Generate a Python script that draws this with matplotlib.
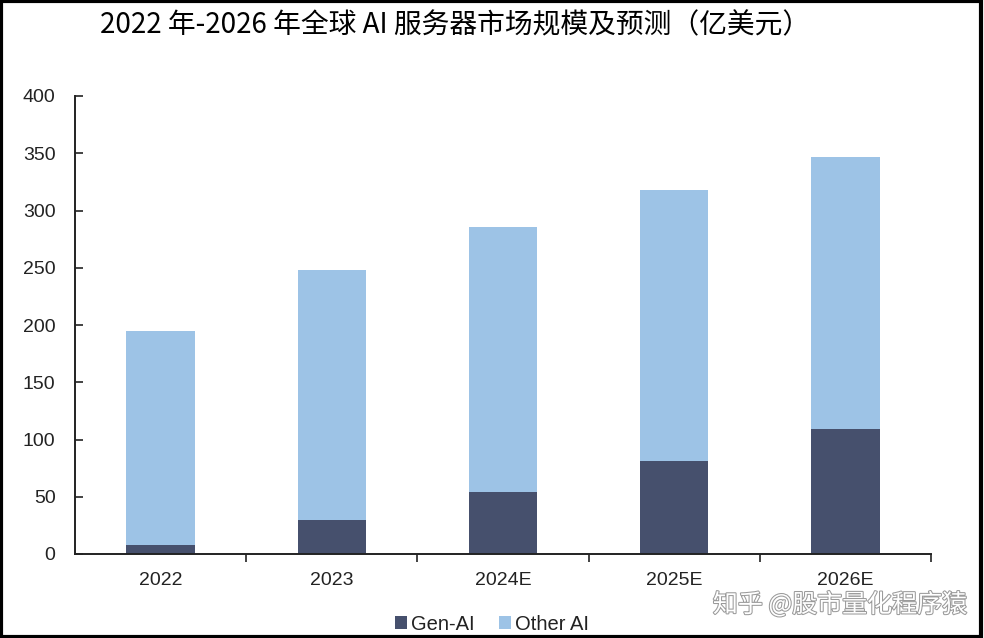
import matplotlib
matplotlib.use("Agg")
import matplotlib.pyplot as plt
import matplotlib.patheffects as pe
from matplotlib.patches import Rectangle
import numpy as np

categories = ["2022", "2023", "2024E", "2025E", "2026E"]
gen_ai = [8, 30, 54, 81, 109]
other_ai = [187, 218, 232, 237, 238]
yticks = [0, 50, 100, 150, 200, 250, 300, 350, 400]

title = "2022 年-2026 年全球 AI 服务器市场规模及预测（亿美元）"
watermark = "知乎 @股市量化程序猿"

c_gen = "#46506d"
c_other = "#9dc3e6"

plt.rcParams['font.family'] = ['Liberation Sans', 'Noto Sans CJK SC', 'DejaVu Sans']

fig = plt.figure(figsize=(9.84, 6.38), dpi=100)
ax = fig.add_axes([75/984, 1-554/638, (931-75)/984, (554-96)/638])

x = np.arange(len(categories))
ax.bar(x, gen_ai, width=0.4, color=c_gen, label="Gen-AI")
ax.bar(x, other_ai, width=0.4, bottom=gen_ai, color=c_other, label="Other AI")

ax.set_xlim(-0.5, len(categories) - 0.5)
ax.set_ylim(0, 400)
ax.set_yticks(yticks)
ax.set_xticks(x)
ax.set_xticklabels(categories, fontsize=14, color="#222222")
ax.set_xticks(np.arange(len(categories)) + 0.5, minor=True)
ax.tick_params(axis='x', which='major', length=0, pad=13)
ax.tick_params(axis='x', which='minor', length=6, width=1.2, direction='out', color="#222222")
ax.tick_params(axis='y', which='major', length=6, width=1.2, direction='in', pad=14,
               labelsize=14, labelcolor="#222222", color="#222222")
for s in ["top", "right"]:
    ax.spines[s].set_visible(False)
for s in ["left", "bottom"]:
    ax.spines[s].set_linewidth(1.4)
    ax.spines[s].set_color("#222222")

fig.text(100/984, 1-25/638, title, fontsize=20, ha='left', va='center',
         family=['Noto Sans CJK SC', 'DejaVu Sans'], color="black")

leg = fig.legend(loc='center', bbox_to_anchor=(0.5, 1-624/638), ncol=2, frameon=False,
                 fontsize=14.5, handlelength=0.6, handleheight=0.6, handletextpad=0.2,
                 columnspacing=1.2)
for t in leg.get_texts():
    t.set_color("#222222")

fig.text(840/984, 1-605/638, watermark, fontsize=18, ha='center', va='center',
         family=['Noto Sans CJK SC', 'DejaVu Sans'], color="white",
         path_effects=[pe.withStroke(linewidth=1.5, foreground="#9a9a9a")])

fig.patches.append(Rectangle((0.001, 0.002), 0.996, 0.996, transform=fig.transFigure,
                             fill=False, edgecolor="black", linewidth=3, zorder=10))

fig.savefig("out.png", dpi=100)
